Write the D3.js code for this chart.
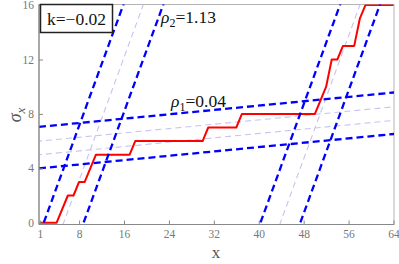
<!DOCTYPE html>
<html>
<head>
<meta charset="utf-8">
<script src="https://cdn.jsdelivr.net/npm/d3@7"></script>
<style>
  body { margin: 0; background: #fff; }
  svg { display: block; }
  svg text { font-family: 'Liberation Serif', 'Times New Roman', serif; }
</style>
</head>
<body>
<svg id="chart" width="399" height="264"></svg>
<script>
// step curve sigma_x vs x
const stepX = [1, 4, 6, 7, 8, 9, 11, 17, 18, 30, 31, 36, 37, 50, 51, 52, 53, 54, 55, 57, 58, 59, 64]
const stepY = [0, 0, 2, 2, 3, 3, 5, 5, 6, 6, 7, 7, 8, 8, 9, 10, 12, 12, 13, 13, 15, 16, 16]

// dashed guide lines
const rho1 = 0.04
const rho2 = 1.13
const k = -0.02
const shallowStarts = [4, 7.05]       // value at x = 1
const shallowFaint = [5, 6]
const steepRoots = [1.7, 8.8, 40.3, 47.4]   // x where the line hits 0
const steepFaint = [5.25, 43.85]

const xTicks = [1, 8, 16, 24, 32, 40, 48, 56, 64]
const yTicks = [0, 4, 8, 12, 16]

const serif = "'Liberation Serif', 'Times New Roman', serif"
const svg = d3.select("#chart")
const pLeft = 39, pRight = 394, pTop = 4.5, pBottom = 224.5

const x = d3.scaleLinear().domain([1, 64]).range([39.8, 393.5])
const y = d3.scaleLinear().domain([0, 16]).range([222.7, 5.1])

svg.append("clipPath").attr("id", "clip")
  .append("rect")
  .attr("x", pLeft).attr("y", pTop)
  .attr("width", pRight - pLeft).attr("height", pBottom - pTop)

// frame
svg.append("rect")
  .attr("x", pLeft).attr("y", pTop)
  .attr("width", pRight - pLeft).attr("height", pBottom - pTop)
  .attr("fill", "none").attr("stroke", "#b4b4b4").attr("stroke-width", 1)

const plot = svg.append("g").attr("clip-path", "url(#clip)")

const line = d3.line().x(d => x(d[0])).y(d => y(d[1]))

const shallow = b => [[-5, b + rho1 * (-6)], [70, b + rho1 * 69]]
const steep = r => [[r - 2, -2 * rho2], [r + 20, 20 * rho2]]

// faint guides first
plot.selectAll(".faint-s").data(shallowFaint).join("path")
  .attr("d", b => line(shallow(b)))
  .attr("fill", "none").attr("stroke", "#c4c4f0").attr("stroke-width", 1.1)
  .attr("stroke-dasharray", "6,4")
plot.selectAll(".faint-t").data(steepFaint).join("path")
  .attr("d", r => line(steep(r)))
  .attr("fill", "none").attr("stroke", "#c4c4f0").attr("stroke-width", 1.1)
  .attr("stroke-dasharray", "6,4")

// red step curve
plot.append("path")
  .datum(stepX.map((v, i) => [v, stepY[i]]))
  .attr("d", line)
  .attr("fill", "none").attr("stroke", "#ff0000").attr("stroke-width", 2)
  .attr("stroke-linejoin", "round")

// bold dashed guides
plot.selectAll(".bold-s").data(shallowStarts).join("path")
  .attr("d", b => line(shallow(b)))
  .attr("fill", "none").attr("stroke", "#0000ff").attr("stroke-width", 2.3)
  .attr("stroke-dasharray", "7,4")
plot.selectAll(".bold-t").data(steepRoots).join("path")
  .attr("d", r => line(steep(r)))
  .attr("fill", "none").attr("stroke", "#0000ff").attr("stroke-width", 2.3)
  .attr("stroke-dasharray", "7,4")

// axes
const xAxis = svg.append("g").attr("transform", `translate(0,${pBottom})`)
  .call(d3.axisBottom(x).tickValues(xTicks).tickSizeInner(-4).tickSizeOuter(0).tickPadding(5))
const yAxis = svg.append("g").attr("transform", `translate(${pLeft},0)`)
  .call(d3.axisLeft(y).tickValues(yTicks).tickSizeInner(-4).tickSizeOuter(0).tickPadding(5))
;[xAxis, yAxis].forEach(g => {
  g.attr("font-family", serif)
  g.select(".domain").attr("stroke", "#888").attr("stroke-width", 1.2)
  g.selectAll(".tick line").attr("stroke", "#888")
  g.selectAll(".tick text").attr("fill", "#777").attr("font-size", 11.5)
})
yAxis.select(".domain").attr("d", `M0,${pBottom}V${pTop}`)
xAxis.select(".domain").attr("d", `M${pLeft},0H${pRight}`)

// axis titles
svg.append("text")
  .attr("x", 216).attr("y", 258)
  .attr("text-anchor", "middle")
  .attr("fill", "#555").attr("font-size", 17)
  .text("x")

const yl = svg.append("text")
  .attr("transform", "translate(21,115) rotate(-90)")
  .attr("text-anchor", "middle")
  .attr("fill", "#555").attr("font-size", 18)
yl.append("tspan").attr("font-style", "italic").text("σ")
yl.append("tspan").attr("dy", 4).attr("font-size", 13).attr("font-style", "italic").text("x")

// k box
svg.append("rect")
  .attr("x", 40.5).attr("y", 4.5).attr("width", 72).attr("height", 28)
  .attr("fill", "#fff").attr("stroke", "#222").attr("stroke-width", 1.5)
svg.append("text")
  .attr("x", 76.5).attr("y", 24.5).attr("text-anchor", "middle")
  .attr("fill", "#111").attr("font-size", 17.5)
  .text("k=" + d3.format(".2f")(k).replace("-", "−"))

// rho labels
const r2 = svg.append("text").attr("x", 161).attr("y", 23)
  .attr("fill", "#111").attr("font-size", 17.5)
r2.append("tspan").attr("font-style", "italic").text("ρ")
r2.append("tspan").attr("dy", 4).attr("font-size", 12).text("2")
r2.append("tspan").attr("dy", -4).text("=" + d3.format(".2f")(rho2))

const r1 = svg.append("text").attr("x", 171).attr("y", 107)
  .attr("fill", "#111").attr("font-size", 17.5)
r1.append("tspan").attr("font-style", "italic").text("ρ")
r1.append("tspan").attr("dy", 4).attr("font-size", 12).text("1")
r1.append("tspan").attr("dy", -4).text("=" + d3.format(".2f")(rho1))
</script>
</body>
</html>
